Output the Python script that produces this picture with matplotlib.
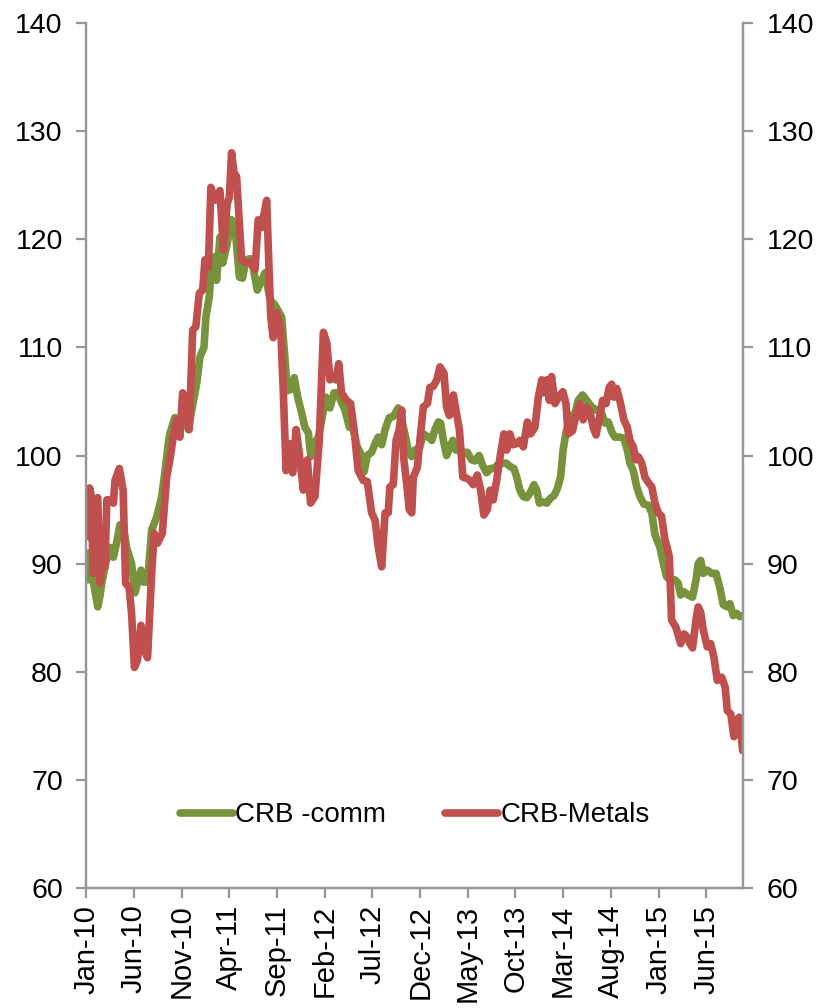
import matplotlib
matplotlib.use("Agg")
import matplotlib.pyplot as plt
import matplotlib.dates as mdates
import pandas as pd

plt.rcParams["font.family"] = ["Liberation Sans", "DejaVu Sans"]

START = pd.Timestamp("2010-01-01")

# days since 1 Jan 2010, and index level
comm_days = [5, 8, 14, 21, 36, 43, 49, 61, 75, 86, 96, 107, 117, 128, 144, 155, 165, 174, 181, 195,
             208, 224, 240, 250, 261, 266, 282, 293, 309, 325, 336, 352, 362, 375, 381, 392, 400, 410,
             415, 426, 435, 447, 463, 474, 488, 498, 509, 522, 532, 545, 559, 570, 586, 602, 623, 633,
             641, 652, 663, 674, 687, 697, 708, 716, 727, 740, 751, 764, 777, 790, 800, 811, 825, 839,
             851, 864, 875, 886, 896, 910, 921, 931, 942, 953, 966, 979, 995, 1013, 1027, 1038, 1048,
             1064, 1075, 1091, 1102, 1112, 1123, 1130, 1139, 1149, 1160, 1169, 1179, 1192, 1202, 1215,
             1229, 1240, 1253, 1264, 1277, 1288, 1300, 1311, 1325, 1339, 1351, 1364, 1373, 1383, 1394,
             1405, 1415, 1428, 1437, 1445, 1458, 1469, 1479, 1492, 1502, 1513, 1521, 1530, 1543, 1559,
             1569, 1583, 1596, 1612, 1628, 1644, 1655, 1665, 1676, 1686, 1702, 1715, 1726, 1734, 1745,
             1756, 1766, 1779, 1793, 1804, 1814, 1830, 1841, 1851, 1862, 1878, 1888, 1896, 1907, 1920,
             1934, 1945, 1952, 1960, 1968, 1981, 1995, 2009, 2021, 2032, 2045, 2053, 2064, 2075, 2085,
             2096]
comm = [88.5, 91.0, 90.5, 88.5, 86.0, 87.0, 88.2, 90.0, 91.5, 90.6, 91.9, 93.6, 93.6, 91.5, 90.0, 87.3,
        88.5, 89.4, 88.3, 88.3, 93.1, 94.3, 96.2, 98.4, 101.1, 102.0, 103.5, 102.4, 104.5, 102.4, 104.2,
        106.7, 109.1, 110.0, 112.8, 114.7, 118.1, 118.4, 116.2, 120.2, 117.8, 119.3, 121.8, 121.1, 116.5,
        116.4, 118.1, 118.2, 117.4, 115.3, 116.2, 116.9, 114.4, 113.9, 112.8, 109.1, 106.0, 106.1, 107.2,
        105.4, 103.9, 102.6, 102.1, 99.9, 101.1, 101.7, 103.3, 105.4, 104.4, 105.8, 105.8, 105.1, 104.2,
        102.6, 102.5, 100.8, 100.2, 98.5, 100.0, 100.3, 101.1, 101.7, 101.0, 102.4, 103.5, 103.6, 104.4,
        102.4, 100.5, 99.9, 100.5, 100.8, 102.0, 101.7, 101.4, 102.4, 103.1, 103.0, 101.4, 100.0, 100.8,
        101.4, 100.5, 100.8, 100.2, 100.3, 99.6, 99.5, 100.0, 99.1, 98.4, 98.8, 98.8, 99.1, 99.3, 99.3,
        99.0, 98.8, 98.0, 96.8, 96.2, 96.1, 96.5, 97.3, 96.8, 95.6, 95.7, 95.6, 96.0, 96.3, 96.9, 98.0,
        100.5, 102.1, 103.6, 103.9, 105.1, 105.6, 105.1, 104.5, 104.2, 103.9, 103.0, 103.1, 102.2, 101.7,
        101.7, 101.6, 100.5, 99.3, 98.6, 97.1, 96.2, 95.5, 95.4, 94.7, 92.7, 91.5, 90.0, 88.8, 88.5, 88.5,
        88.2, 87.1, 87.4, 87.1, 86.9, 88.5, 90.0, 90.3, 89.1, 89.4, 89.1, 89.1, 87.8, 86.2, 86.0, 86.3,
        85.2, 85.4, 85.1, 85.2]

metals_days = [5, 10, 14, 22, 30, 36, 43, 53, 59, 65, 78, 86, 91, 105, 117, 125, 136, 144, 153, 163,
               174, 184, 195, 208, 216, 227, 242, 256, 266, 277, 288, 298, 307, 318, 328, 339, 349, 360,
               371, 378, 389, 397, 410, 426, 437, 449, 456, 463, 471, 479, 495, 511, 522, 538, 548, 559,
               575, 588, 596, 607, 620, 628, 637, 647, 658, 669, 679, 692, 705, 715, 729, 743, 756, 767,
               777, 788, 796, 805, 814, 830, 843, 854, 867, 883, 896, 910, 921, 931, 942, 953, 963, 968,
               979, 988, 998, 1006, 1013, 1024, 1030, 1038, 1043, 1056, 1064, 1075, 1088, 1096, 1107,
               1118, 1128, 1141, 1149, 1158, 1171, 1179, 1190, 1201, 1213, 1224, 1234, 1247, 1258, 1268,
               1279, 1288, 1298, 1309, 1320, 1332, 1341, 1351, 1362, 1373, 1383, 1394, 1407, 1417, 1431,
               1442, 1453, 1460, 1469, 1477, 1484, 1495, 1506, 1520, 1530, 1537, 1551, 1562, 1575, 1585,
               1596, 1607, 1617, 1626, 1636, 1647, 1658, 1668, 1676, 1683, 1692, 1702, 1715, 1726, 1734,
               1745, 1753, 1761, 1772, 1782, 1793, 1804, 1814, 1825, 1835, 1846, 1853, 1860, 1867, 1881,
               1896, 1907, 1917, 1926, 1934, 1945, 1952, 1960, 1968, 1981, 1992, 2002, 2013, 2027, 2038,
               2045, 2056, 2066, 2075, 2083, 2094]
metals = [92.5, 97.0, 96.5, 89.1, 95.5, 96.1, 88.2, 90.5, 89.7, 95.9, 95.9, 95.6, 97.7, 98.8, 96.8, 88.2,
          87.8, 85.4, 80.4, 81.1, 84.3, 82.0, 81.3, 89.1, 92.8, 91.9, 92.8, 98.0, 99.6, 101.7, 103.3,
          101.7, 105.8, 104.5, 102.4, 111.6, 111.9, 115.0, 115.3, 118.1, 117.4, 124.8, 123.6, 124.5,
          119.0, 123.3, 123.9, 128.0, 126.1, 125.8, 118.1, 117.8, 117.9, 117.2, 121.8, 121.1, 123.6,
          112.8, 110.9, 113.2, 111.6, 106.0, 98.6, 101.1, 98.4, 102.4, 100.2, 96.8, 99.6, 95.6, 96.2,
          101.4, 111.4, 110.4, 107.0, 107.3, 107.0, 108.5, 105.8, 105.1, 104.8, 102.4, 98.6, 97.7, 97.6,
          94.7, 94.0, 91.5, 89.7, 94.7, 94.7, 97.1, 97.3, 101.4, 102.4, 104.2, 99.6, 96.8, 95.0, 94.7,
          98.0, 98.9, 101.4, 104.5, 104.8, 106.3, 106.4, 107.0, 108.2, 107.6, 104.5, 103.7, 105.6, 104.2,
          102.4, 98.0, 97.9, 97.7, 97.3, 98.2, 96.8, 94.5, 95.0, 96.8, 95.9, 97.7, 99.9, 102.0, 100.5,
          102.0, 101.0, 101.1, 101.4, 100.8, 103.1, 102.0, 102.6, 105.4, 107.0, 105.8, 107.0, 105.1,
          107.3, 104.8, 105.4, 105.9, 104.8, 102.0, 102.3, 103.7, 104.8, 103.3, 104.5, 104.0, 102.6,
          101.9, 103.3, 105.1, 104.8, 106.3, 106.6, 105.4, 106.2, 105.1, 103.3, 102.6, 101.4, 100.8, 99.6,
          99.9, 99.3, 98.0, 97.5, 97.1, 95.6, 94.7, 94.4, 92.2, 91.5, 90.6, 84.8, 84.1, 82.6, 83.5, 83.2,
          82.6, 82.2, 84.8, 86.0, 85.5, 83.9, 82.3, 82.6, 81.4, 79.2, 79.5, 78.6, 76.4, 76.1, 74.0, 75.5,
          75.8, 72.7]

END_DAY = 2095
tick_dates = pd.date_range("2010-01-01", periods=14, freq="5MS")

GREEN = "#77933C"
RED = "#C0504D"
SPINE = "#969696"

comm_dates = START + pd.to_timedelta(comm_days, unit="D")
metals_dates = START + pd.to_timedelta(metals_days, unit="D")

fig = plt.figure(figsize=(8.25, 10.08), dpi=100)
ax = fig.add_axes([0.1048, 0.119, 0.7958, 0.8582])

line_kw = dict(lw=5.5, solid_joinstyle="round", solid_capstyle="round")
ax.plot(comm_dates, comm, color=GREEN, label="CRB -comm", **line_kw)
ax.plot(metals_dates, metals, color=RED, label="CRB-Metals", **line_kw)

ax.set_xlim(START, START + pd.Timedelta(days=END_DAY))
ax.set_ylim(60, 140)
ax.set_yticks(range(60, 141, 10))
ax.set_xticks(tick_dates)
ax.xaxis.set_major_formatter(mdates.DateFormatter("%b-%y"))

ax2 = ax.twinx()
ax2.set_ylim(60, 140)
ax2.set_yticks(range(60, 141, 10))

for a in (ax, ax2):
    for s in a.spines.values():
        s.set_color(SPINE)
        s.set_linewidth(1.6)
    a.spines["top"].set_visible(False)
    a.tick_params(axis="both", direction="out", length=7, width=1.6, color=SPINE,
                  labelsize=20.5, pad=10)

ax.tick_params(axis="x", labelrotation=90, labelsize=21, pad=5)

ax.legend(loc="center", bbox_to_anchor=(0.5, 0.084), ncol=2, frameon=False,
          fontsize=20, handlelength=1.9, handletextpad=0.1, columnspacing=2.1)

fig.savefig("out.png", dpi=100)
